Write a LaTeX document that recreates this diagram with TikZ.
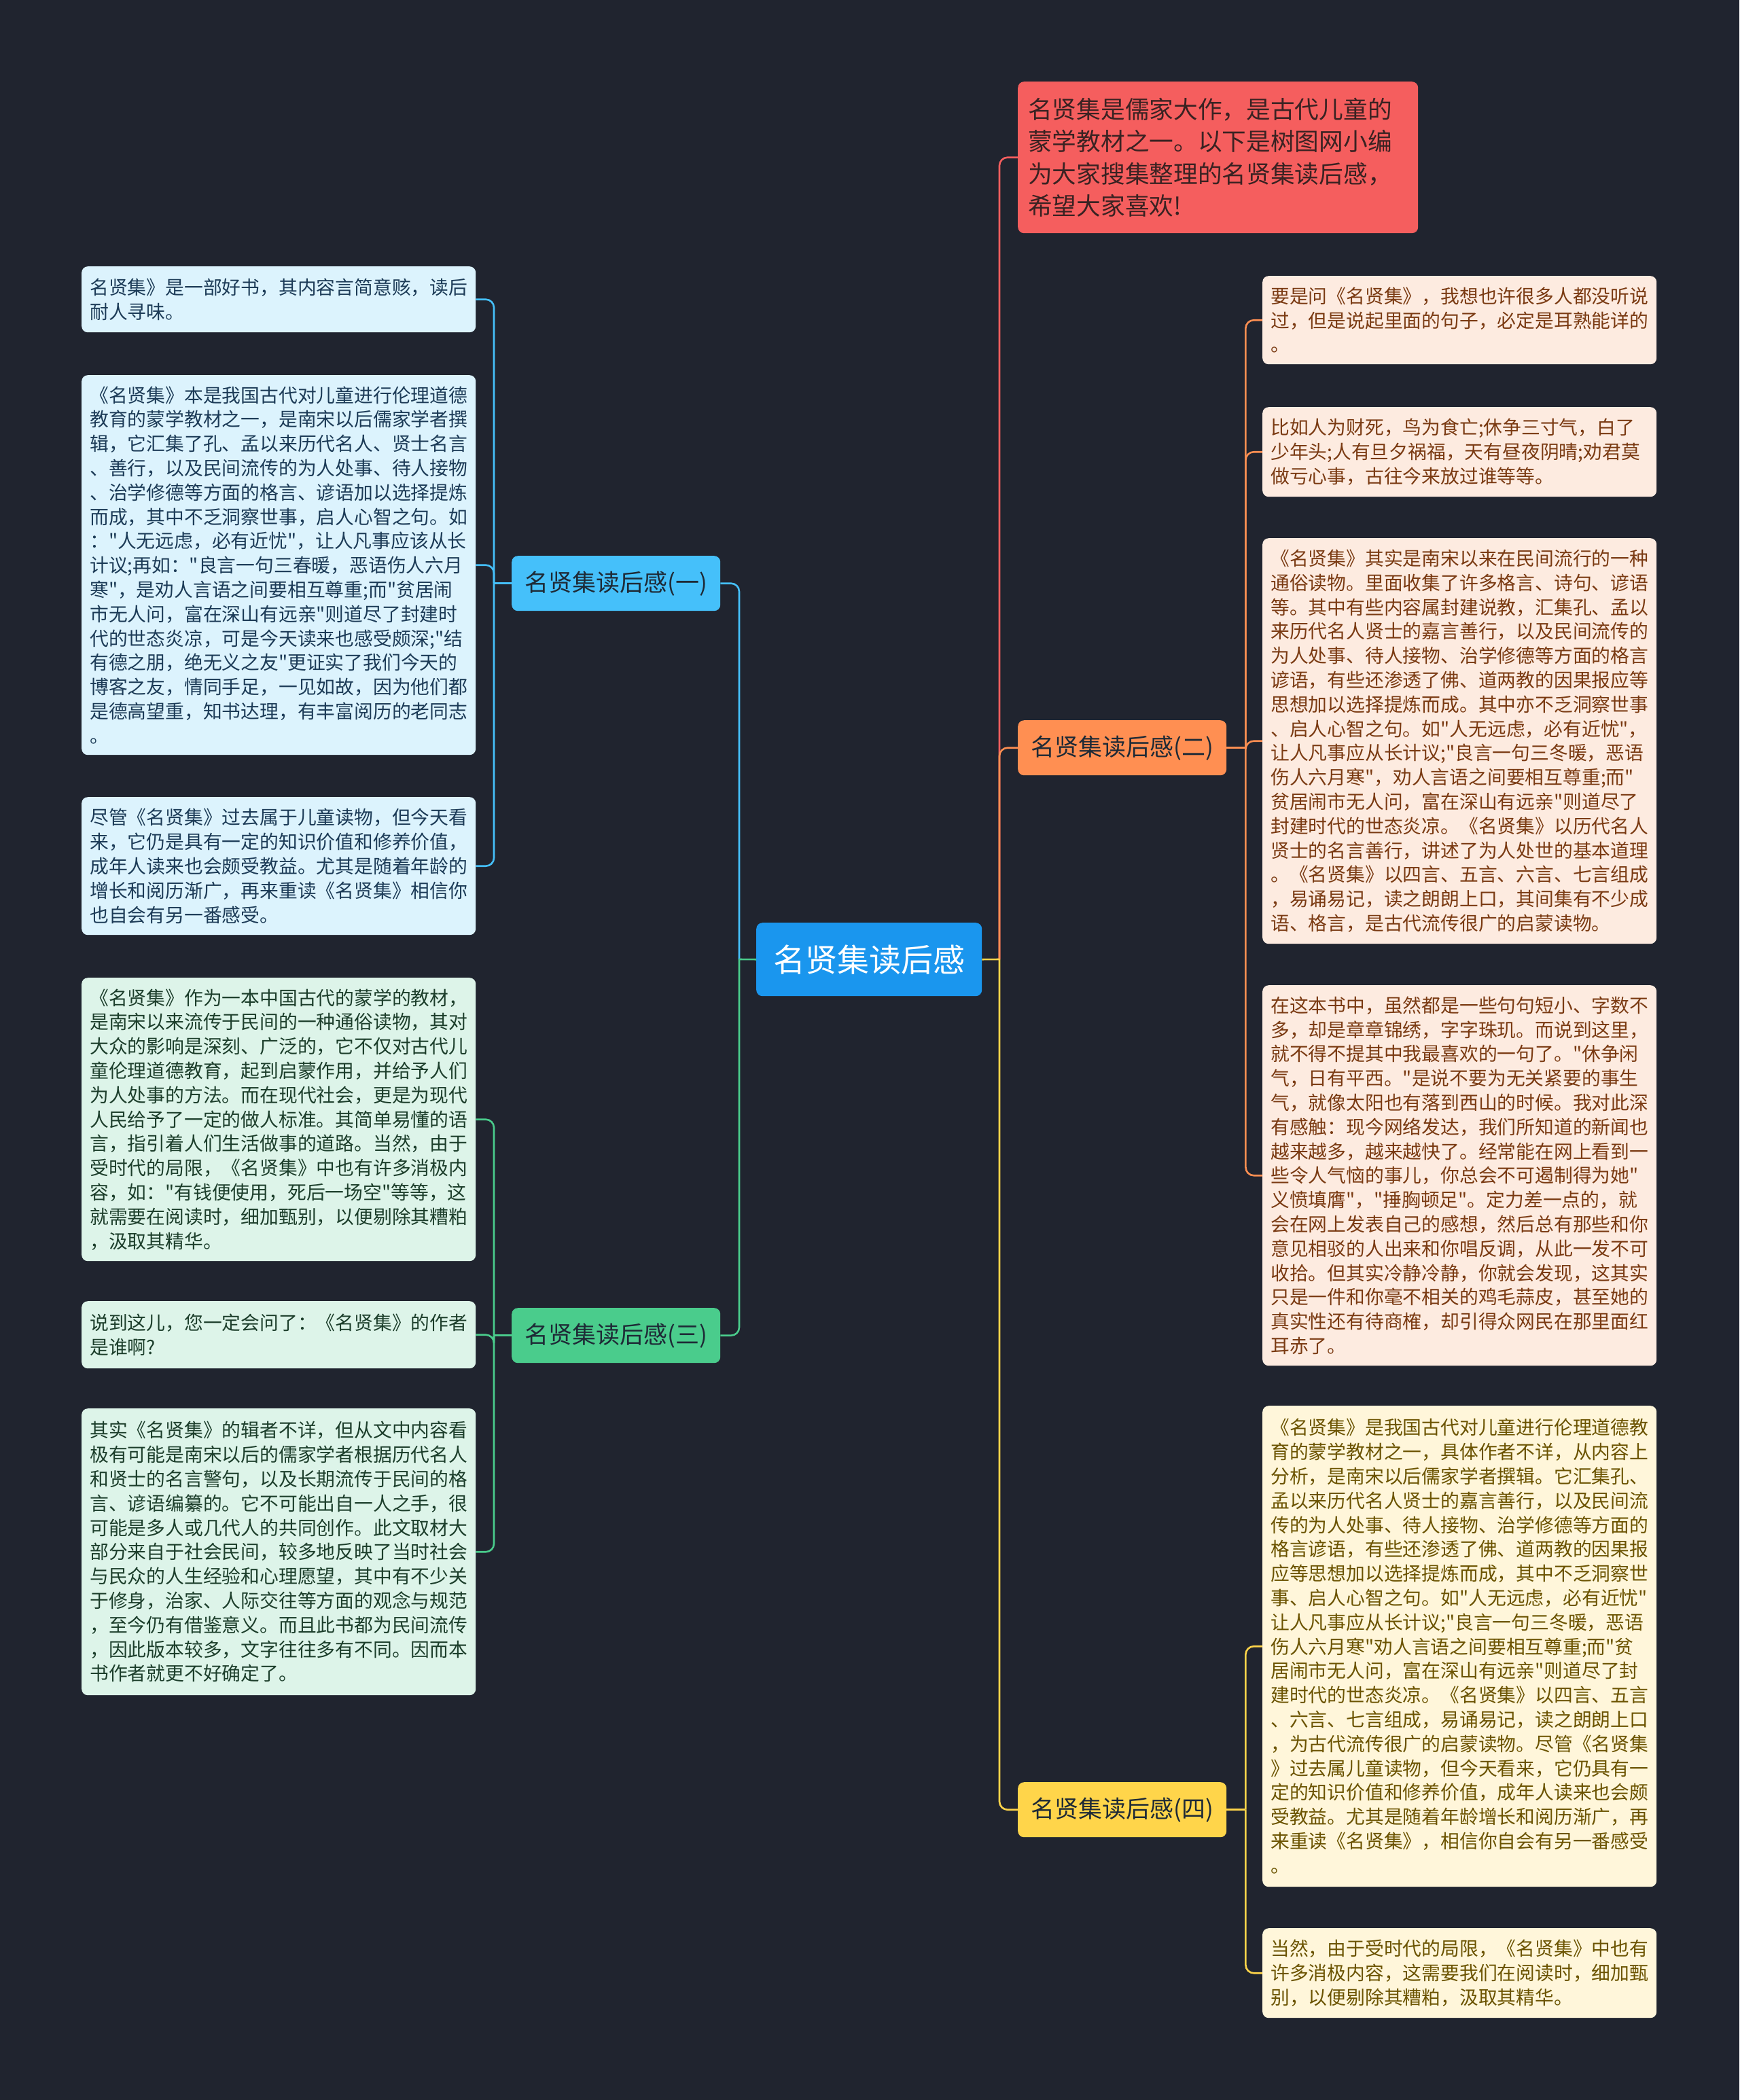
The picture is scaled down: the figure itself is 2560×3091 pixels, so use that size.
\documentclass[tikz,border=0pt]{standalone}
\usepackage{fontspec}
\setmainfont{Noto Sans CJK SC}[Ligatures=TeXOff]
\definecolor{bg}{HTML}{20242F}
\definecolor{cblue}{HTML}{1A96EE}
\definecolor{lblue}{HTML}{45C0FA}
\definecolor{lgreen}{HTML}{4ACC8C}
\definecolor{lorange}{HTML}{FF8F52}
\definecolor{lyellow}{HTML}{FFD54A}
\definecolor{lred}{HTML}{F55E5E}
\definecolor{fblue}{HTML}{DCF3FD}
\definecolor{tblue}{HTML}{1C3B57}
\definecolor{fgreen}{HTML}{DDF4E9}
\definecolor{tgreen}{HTML}{1C3E2B}
\definecolor{forange}{HTML}{FDEBE0}
\definecolor{torange}{HTML}{7A3A12}
\definecolor{fyellow}{HTML}{FFF6DA}
\definecolor{tyellow}{HTML}{6B5300}
\definecolor{tdark}{HTML}{1E2A36}
\definecolor{tred}{HTML}{3A2222}
\newcommand\myLeafFont{\fontsize{27.8pt}{35.8pt}\selectfont}
\newcommand\myTopicFont{\fontsize{35pt}{42pt}\selectfont}
\newcommand\myCenterFont{\fontsize{47pt}{56pt}\selectfont}
\newcommand\myRedFont{\fontsize{35.7pt}{47.3pt}\selectfont}
\begin{document}
\begin{tikzpicture}[x=1pt,y=-1pt,
  conn/.style={line width=2.6pt, rounded corners=12pt},
  leafbox/.style={anchor=north west, rounded corners=9pt, inner xsep=12pt, inner ysep=0pt, text width=556pt, align=left, font=\myLeafFont},
  topic/.style={anchor=north west, rounded corners=9pt, minimum width=307pt, minimum height=81pt, inner sep=0pt, align=center, font=\myTopicFont, text=tdark}
]
\fill[bg] (0,0) rectangle (2560,3091);

% center and topics
\node[topic, fill=cblue, text=white, minimum width=332pt, minimum height=108pt, font=\myCenterFont] (C) at (1113,1358) {名贤集读后感};
\node[topic, fill=lblue] (T1) at (753,818) {名贤集读后感(一)};
\node[topic, fill=lgreen] (T3) at (753,1925) {名贤集读后感(三)};
\node[topic, fill=lorange] (T2) at (1498,1060) {名贤集读后感(二)};
\node[topic, fill=lyellow] (T4) at (1498,2623) {名贤集读后感(四)};
\node[leafbox, fill=lred, text=tred, text width=559pt, inner xsep=15pt, minimum height=223pt, font=\myRedFont] (R0) at (1498,120) {名贤集是儒家大作，是古代儿童的\\
蒙学教材之一。以下是树图网小编\\
为大家搜集整理的名贤集读后感，\\
希望大家喜欢!};

% left leaves (blue)
\node[leafbox, fill=fblue, text=tblue, minimum height=97pt] (L1) at (120,392) {名贤集》是一部好书，其内容言简意赅，读后\\
耐人寻味。};
\node[leafbox, fill=fblue, text=tblue, minimum height=559pt] (L2) at (120,552) {《名贤集》本是我国古代对儿童进行伦理道德\\
教育的蒙学教材之一，是南宋以后儒家学者撰\\
辑，它汇集了孔、孟以来历代名人、贤士名言\\
、善行，以及民间流传的为人处事、待人接物\\
、治学修德等方面的格言、谚语加以选择提炼\\
而成，其中不乏洞察世事，启人心智之句。如\\
："人无远虑，必有近忧"，让人凡事应该从长\\
计议;再如："良言一句三春暖，恶语伤人六月\\
寒"，是劝人言语之间要相互尊重;而"贫居闹\\
市无人问，富在深山有远亲"则道尽了封建时\\
代的世态炎凉，可是今天读来也感受颇深;"结\\
有德之朋，绝无义之友"更证实了我们今天的\\
博客之友，情同手足，一见如故，因为他们都\\
是德高望重，知书达理，有丰富阅历的老同志\\
。};
\node[leafbox, fill=fblue, text=tblue, minimum height=203pt] (L3) at (120,1173) {尽管《名贤集》过去属于儿童读物，但今天看\\
来，它仍是具有一定的知识价值和修养价值，\\
成年人读来也会颇受教益。尤其是随着年龄的\\
增长和阅历渐广，再来重读《名贤集》相信你\\
也自会有另一番感受。};

% left leaves (green)
\node[leafbox, fill=fgreen, text=tgreen, minimum height=417pt] (L4) at (120,1439) {《名贤集》作为一本中国古代的蒙学的教材，\\
是南宋以来流传于民间的一种通俗读物，其对\\
大众的影响是深刻、广泛的，它不仅对古代儿\\
童伦理道德教育，起到启蒙作用，并给予人们\\
为人处事的方法。而在现代社会，更是为现代\\
人民给予了一定的做人标准。其简单易懂的语\\
言，指引着人们生活做事的道路。当然，由于\\
受时代的局限，《名贤集》中也有许多消极内\\
容，如："有钱便使用，死后一场空"等等，这\\
就需要在阅读时，细加甄别，以便剔除其糟粕\\
，汲取其精华。};
\node[leafbox, fill=fgreen, text=tgreen, minimum height=99pt] (L5) at (120,1915) {说到这儿，您一定会问了：《名贤集》的作者\\
是谁啊?};
\node[leafbox, fill=fgreen, text=tgreen, minimum height=422pt] (L6) at (120,2073) {其实《名贤集》的辑者不详，但从文中内容看\\
极有可能是南宋以后的儒家学者根据历代名人\\
和贤士的名言警句，以及长期流传于民间的格\\
言、谚语编纂的。它不可能出自一人之手，很\\
可能是多人或几代人的共同创作。此文取材大\\
部分来自于社会民间，较多地反映了当时社会\\
与民众的人生经验和心理愿望，其中有不少关\\
于修身，治家、人际交往等方面的观念与规范\\
，至今仍有借鉴意义。而且此书都为民间流传\\
，因此版本较多，文字往往多有不同。因而本\\
书作者就更不好确定了。};

% right leaves (orange)
\node[leafbox, fill=forange, text=torange, minimum height=130pt] (R1) at (1858,406) {要是问《名贤集》，我想也许很多人都没听说\\
过，但是说起里面的句子，必定是耳熟能详的\\
。};
\node[leafbox, fill=forange, text=torange, minimum height=132pt] (R2) at (1858,599) {比如人为财死，鸟为食亡;休争三寸气，白了\\
少年头;人有旦夕祸福，天有昼夜阴晴;劝君莫\\
做亏心事，古往今来放过谁等等。};
\node[leafbox, fill=forange, text=torange, minimum height=597pt] (R3) at (1858,792) {《名贤集》其实是南宋以来在民间流行的一种\\
通俗读物。里面收集了许多格言、诗句、谚语\\
等。其中有些内容属封建说教，汇集孔、孟以\\
来历代名人贤士的嘉言善行，以及民间流传的\\
为人处事、待人接物、治学修德等方面的格言\\
谚语，有些还渗透了佛、道两教的因果报应等\\
思想加以选择提炼而成。其中亦不乏洞察世事\\
、启人心智之句。如"人无远虑，必有近忧"，\\
让人凡事应从长计议;"良言一句三冬暖，恶语\\
伤人六月寒"，劝人言语之间要相互尊重;而"\\
贫居闹市无人问，富在深山有远亲"则道尽了\\
封建时代的世态炎凉。《名贤集》以历代名人\\
贤士的名言善行，讲述了为人处世的基本道理\\
。《名贤集》以四言、五言、六言、七言组成\\
，易诵易记，读之朗朗上口，其间集有不少成\\
语、格言，是古代流传很广的启蒙读物。};
\node[leafbox, fill=forange, text=torange, minimum height=560pt] (R4) at (1858,1450) {在这本书中，虽然都是一些句句短小、字数不\\
多，却是章章锦绣，字字珠玑。而说到这里，\\
就不得不提其中我最喜欢的一句了。"休争闲\\
气，日有平西。"是说不要为无关紧要的事生\\
气，就像太阳也有落到西山的时候。我对此深\\
有感触：现今网络发达，我们所知道的新闻也\\
越来越多，越来越快了。经常能在网上看到一\\
些令人气恼的事儿，你总会不可遏制得为她"\\
义愤填膺"，"捶胸顿足"。定力差一点的，就\\
会在网上发表自己的感想，然后总有那些和你\\
意见相驳的人出来和你唱反调，从此一发不可\\
收拾。但其实冷静冷静，你就会发现，这其实\\
只是一件和你毫不相关的鸡毛蒜皮，甚至她的\\
真实性还有待商榷，却引得众网民在那里面红\\
耳赤了。};

% right leaves (yellow)
\node[leafbox, fill=fyellow, text=tyellow, minimum height=708pt] (R5) at (1858,2069) {《名贤集》是我国古代对儿童进行伦理道德教\\
育的蒙学教材之一，具体作者不详，从内容上\\
分析，是南宋以后儒家学者撰辑。它汇集孔、\\
孟以来历代名人贤士的嘉言善行，以及民间流\\
传的为人处事、待人接物、治学修德等方面的\\
格言谚语，有些还渗透了佛、道两教的因果报\\
应等思想加以选择提炼而成，其中不乏洞察世\\
事、启人心智之句。如"人无远虑，必有近忧"\\
让人凡事应从长计议;"良言一句三冬暖，恶语\\
伤人六月寒"劝人言语之间要相互尊重;而"贫\\
居闹市无人问，富在深山有远亲"则道尽了封\\
建时代的世态炎凉。《名贤集》以四言、五言\\
、六言、七言组成，易诵易记，读之朗朗上口\\
，为古代流传很广的启蒙读物。尽管《名贤集\\
》过去属儿童读物，但今天看来，它仍具有一\\
定的知识价值和修养价值，成年人读来也会颇\\
受教益。尤其是随着年龄增长和阅历渐广，再\\
来重读《名贤集》，相信你自会有另一番感受\\
。};
\node[leafbox, fill=fyellow, text=tyellow, minimum height=132pt] (R6) at (1858,2838) {当然，由于受时代的局限，《名贤集》中也有\\
许多消极内容，这需要我们在阅读时，细加甄\\
别，以便剔除其糟粕，汲取其精华。};

% bus coordinates
\coordinate (LB) at (1088,1412);
\coordinate (RB) at (1471,1412);
\coordinate (B1) at ([xshift=-26pt]T1.west);
\coordinate (B3) at ([xshift=-26pt]T3.west);
\coordinate (B2) at ([xshift=28pt]T2.east);
\coordinate (B4) at ([xshift=28pt]T4.east);

% center connectors
\draw[conn, lred] (RB) |- (R0.west);
\draw[conn, lorange] (RB) |- (T2.west);
\draw[conn, lyellow] (RB) |- (T4.west);
\draw[conn, lyellow] (C.east) -- (RB);
\draw[conn, lblue] (LB) |- (T1.east);
\draw[conn, lgreen] (LB) |- (T3.east);
\draw[conn, lgreen] (C.west) -- (LB);

% topic to leaf connectors
\draw[conn, lblue] (T1.west) -- (B1);
\draw[conn, lblue] (B1) |- (L1.east);
\draw[conn, lblue] (B1) |- (L2.east);
\draw[conn, lblue] (B1) |- (L3.east);
\draw[conn, lgreen] (T3.west) -- (B3);
\draw[conn, lgreen] (B3) |- (L4.east);
\draw[conn, lgreen] (B3) |- (L5.east);
\draw[conn, lgreen] (B3) |- (L6.east);
\draw[conn, lorange] (T2.east) -- (B2);
\draw[conn, lorange] (B2) |- (R1.west);
\draw[conn, lorange] (B2) |- (R2.west);
\draw[conn, lorange] (B2) |- (R3.west);
\draw[conn, lorange] (B2) |- (R4.west);
\draw[conn, lyellow] (T4.east) -- (B4);
\draw[conn, lyellow] (B4) |- (R5.west);
\draw[conn, lyellow] (B4) |- (R6.west);
\end{tikzpicture}
\end{document}
